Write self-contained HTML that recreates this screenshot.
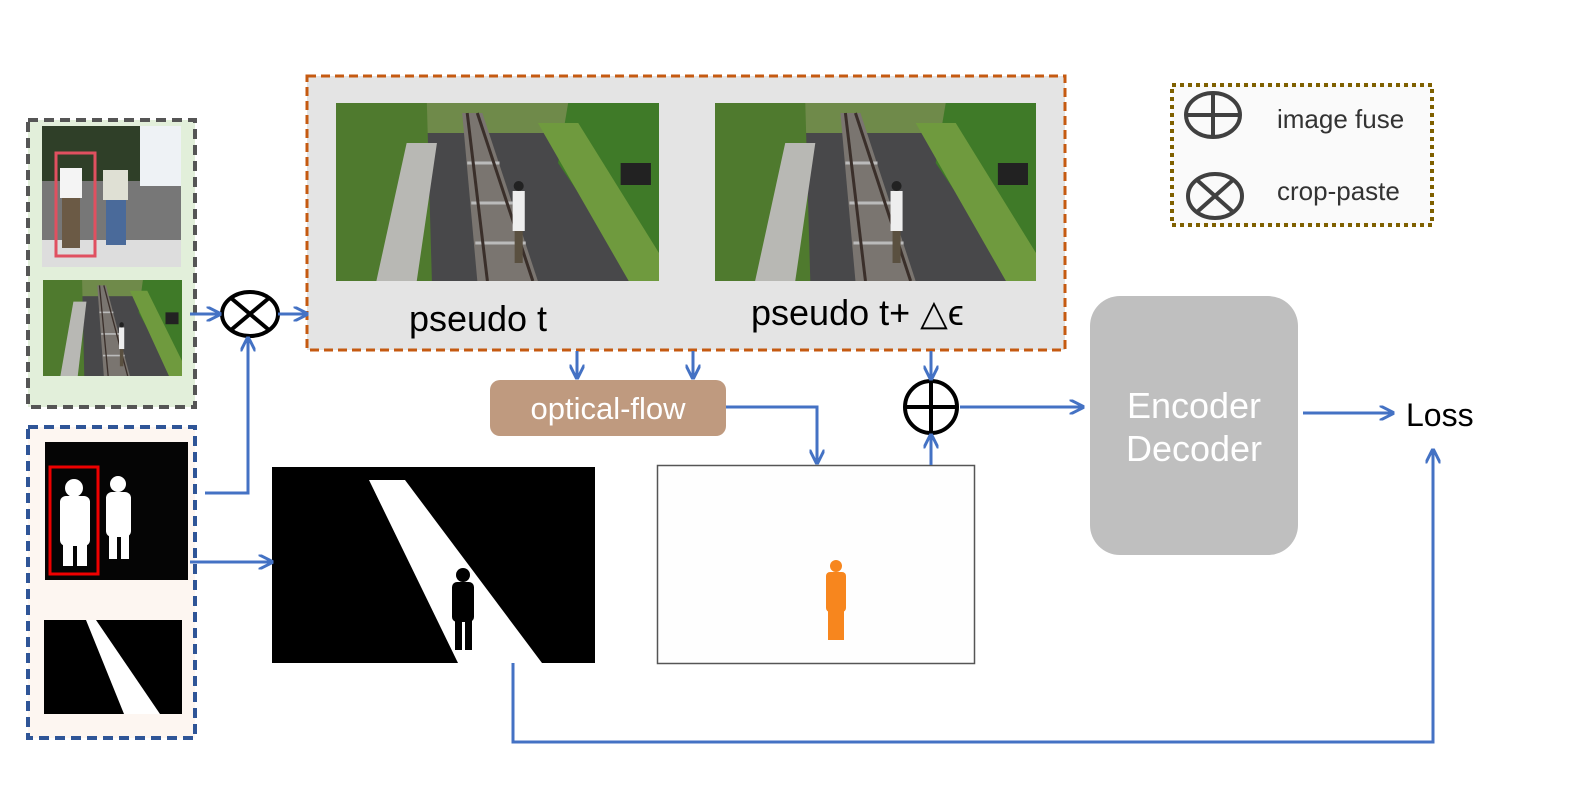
<!DOCTYPE html>
<html><head><meta charset="utf-8"><style>html,body{margin:0;padding:0;background:#fff}svg{display:block}</style></head>
<body>
<svg width="1571" height="786" viewBox="0 0 1571 786" xmlns="http://www.w3.org/2000/svg" font-family="Liberation Sans, Arial, sans-serif">
<defs>
<marker id="ah" viewBox="0 0 10 10" refX="9" refY="5" markerWidth="5" markerHeight="5" orient="auto-start-reverse"><path d="M0,0 L10,5 L0,10" fill="none" stroke="#4472c4" stroke-width="2"/></marker>
<g id="rail">
<rect x="0" y="0" width="320" height="178" fill="#48484a"/>
<rect x="0" y="0" width="320" height="30" fill="#6f8a4a"/>
<polygon points="0,0 90,0 95,178 0,178" fill="#4f7a2e"/>
<polygon points="70,40 100,40 80,178 40,178" fill="#b8b8b4"/>
<polygon points="230,0 320,0 320,178 300,178 220,60" fill="#3f7a28"/>
<polygon points="200,20 240,20 320,150 320,178 290,178" fill="#6f9a3e"/>
<polygon points="125,10 145,10 200,178 140,178" fill="#7a7570"/>
<g stroke="#bbb" stroke-width="3"><line x1="130" y1="60" x2="162" y2="60"/><line x1="134" y1="100" x2="175" y2="100"/><line x1="138" y1="140" x2="188" y2="140"/></g>
<line x1="130" y1="10" x2="150" y2="178" stroke="#3a2f2a" stroke-width="3"/>
<line x1="140" y1="10" x2="195" y2="178" stroke="#3a2f2a" stroke-width="3"/>
<rect x="175" y="88" width="12" height="40" fill="#eee"/>
<rect x="177" y="128" width="8" height="32" fill="#5a5040"/>
<circle cx="181" cy="83" r="5" fill="#222"/>
<rect x="282" y="60" width="30" height="22" fill="#222"/>
</g>
</defs>

<rect x="28" y="120" width="167" height="287" fill="#e2efda" stroke="#555" stroke-width="4" stroke-dasharray="10,6"/>
<rect x="42" y="126" width="139" height="141" fill="#777"/>
<rect x="42" y="126" width="139" height="55" fill="#2f3f28"/>
<rect x="140" y="126" width="41" height="60" fill="#eef2f5"/>
<rect x="42" y="240" width="139" height="27" fill="#ddd"/>
<rect x="60" y="168" width="22" height="30" fill="#f4f4f4"/>
<rect x="62" y="198" width="18" height="50" fill="#6b5a45"/>
<rect x="103" y="170" width="25" height="30" fill="#dfe0d4"/>
<rect x="106" y="200" width="20" height="45" fill="#4a6a9a"/>
<rect x="56" y="153" width="39" height="103" fill="none" stroke="#e05060" stroke-width="3"/>
<svg x="43" y="280" width="139" height="96" viewBox="0 0 320 178" preserveAspectRatio="none"><use href="#rail"/></svg>

<rect x="28" y="427" width="167" height="311" fill="#fdf6f1" stroke="#2f5597" stroke-width="4" stroke-dasharray="10,6"/>
<rect x="45" y="442" width="143" height="138" fill="#050505"/>
<g fill="#fff">
<circle cx="74" cy="488" r="9"/><rect x="60" y="496" width="30" height="50" rx="6"/><rect x="63" y="540" width="10" height="26"/><rect x="77" y="540" width="10" height="26"/>
<circle cx="118" cy="484" r="8"/><rect x="106" y="492" width="25" height="45" rx="6"/><rect x="109" y="535" width="8" height="24"/><rect x="121" y="535" width="8" height="24"/>
</g>
<rect x="50" y="467" width="48" height="107" fill="none" stroke="#e00" stroke-width="3"/>
<rect x="44" y="620" width="138" height="94" fill="#000"/>
<polygon points="86,620 96,620 160,714 124,714" fill="#fff"/>

<rect x="307" y="76" width="758" height="274" fill="#e4e4e4" stroke="#c55a11" stroke-width="3" stroke-dasharray="9,5"/>
<svg x="336" y="103" width="323" height="178" viewBox="0 0 320 178" preserveAspectRatio="none"><use href="#rail"/></svg>
<svg x="715" y="103" width="321" height="178" viewBox="0 0 320 178" preserveAspectRatio="none"><use href="#rail"/></svg>
<text x="478" y="331" font-size="36" text-anchor="middle" fill="#000">pseudo t</text>
<text x="751" y="325" font-size="36" fill="#000">pseudo t+ △ϵ</text>

<rect x="490" y="380" width="236" height="56" rx="10" fill="#bf9a7f"/>
<text x="608" y="419" font-size="31" text-anchor="middle" fill="#fff">optical-flow</text>

<rect x="272" y="467" width="323" height="196" fill="#000"/>
<polygon points="369,480 405,480 542,663 458,663" fill="#fff"/>
<g fill="#000"><circle cx="463" cy="575" r="7"/><rect x="452" y="582" width="22" height="40" rx="5"/><rect x="455" y="618" width="7" height="32"/><rect x="465" y="618" width="7" height="32"/></g>

<rect x="657.5" y="465.5" width="317" height="198" fill="#fefefe" stroke="#555" stroke-width="1.5"/>
<g fill="#f7861e"><circle cx="836" cy="566" r="6"/><rect x="826" y="572" width="20" height="40" rx="4"/><rect x="828" y="608" width="16" height="32"/></g>

<rect x="1090" y="296" width="208" height="259" rx="30" fill="#bfbfbf"/>
<text x="1194" y="418" font-size="36" text-anchor="middle" fill="#fff">Encoder</text>
<text x="1194" y="461" font-size="36" text-anchor="middle" fill="#fff">Decoder</text>
<text x="1406" y="426" font-size="32" fill="#000">Loss</text>

<g stroke="#000" stroke-width="4" fill="#fff">
<ellipse cx="250" cy="314" rx="28" ry="22"/>
<line x1="231" y1="298" x2="269" y2="330"/><line x1="269" y1="298" x2="231" y2="330"/>
<circle cx="931" cy="407" r="26"/>
<line x1="905" y1="407" x2="957" y2="407"/><line x1="931" y1="381" x2="931" y2="433"/>
</g>

<rect x="1172" y="85" width="260" height="140" fill="#fafafa" stroke="#7f6000" stroke-width="4" stroke-dasharray="4,4"/>
<g stroke="#404040" stroke-width="4" fill="none">
<ellipse cx="1213" cy="115" rx="27" ry="22"/><line x1="1186" y1="115" x2="1240" y2="115"/><line x1="1213" y1="93" x2="1213" y2="137"/>
<ellipse cx="1215" cy="196" rx="27" ry="22"/><line x1="1197" y1="180" x2="1233" y2="212"/><line x1="1233" y1="180" x2="1197" y2="212"/>
</g>
<text x="1277" y="128" font-size="26" fill="#333">image fuse</text>
<text x="1277" y="200" font-size="26" fill="#333">crop-paste</text>

<g stroke="#4472c4" stroke-width="3" fill="none" marker-end="url(#ah)">
<path d="M190,314 H220"/>
<path d="M278,314 H307"/>
<path d="M205,493 H248 V338"/>
<path d="M190,562 H272"/>
<path d="M577,351 V378"/>
<path d="M693,351 V378"/>
<path d="M726,407 H817 V463"/>
<path d="M931,351 V379"/>
<path d="M931,465 V435"/>
<path d="M960,407 H1083"/>
<path d="M1303,413 H1393"/>
<path d="M513,663 V742 H1433 V450"/>
</g>
</svg>
</body></html>
